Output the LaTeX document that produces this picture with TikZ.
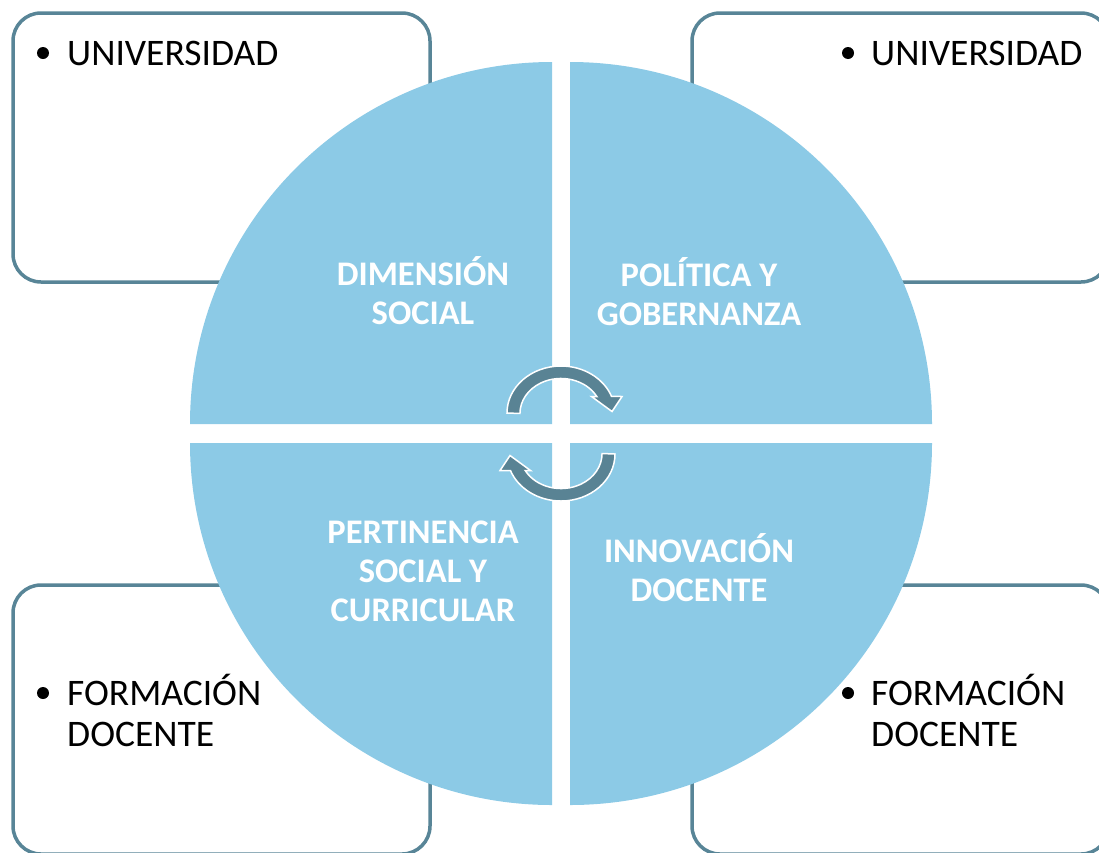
\documentclass[tikz,border=0pt]{standalone}
\usepackage{fontspec}
\setmainfont{Carlito}
\definecolor{quad}{RGB}{140,202,230}
\definecolor{frame}{RGB}{88,133,151}
\definecolor{arrowc}{RGB}{89,131,148}
\tikzset{
  boxline/.style={draw=frame, line width=3.5pt, rounded corners=28pt, fill=white},
  quadfill/.style={fill=quad, draw=none},
  qlabel/.style={inner sep=0pt, text=white, font=\fontsize{34.5}{39}\selectfont\bfseries},
  blabel/.style={inner sep=0pt, text=black, font=\fontsize{37.5}{41}\selectfont},
  bulletmark/.style={circle, fill=black, inner sep=0pt, minimum size=12pt},
  cyclearrow/.style={fill=arrowc, draw=white, line width=1.5pt, line join=miter}
}
\begin{document}
\begin{tikzpicture}[x=1pt,y=-1pt]
\useasboundingbox (0,0) rectangle (1099,852);
\clip (0,0) rectangle (1099,852);
% corner boxes
\path[boxline] (13,13) rectangle (430,282);
\path[boxline] (692,13) rectangle (1109,282);
\path[boxline] (13,585) rectangle (430,854);
\path[boxline] (692,585) rectangle (1109,854);
% quadrants
\path[quadfill] (552,424) -- ++(-362,0) arc[start angle=180, end angle=270, radius=362] -- cycle;
\path[quadfill] (570,424) -- ++(0,-362) arc[start angle=270, end angle=360, radius=362] -- cycle;
\path[quadfill] (570,443) -- ++(362,0) arc[start angle=0, end angle=90, radius=362] -- cycle;
\path[quadfill] (552,443) -- ++(0,362) arc[start angle=90, end angle=180, radius=362] -- cycle;
% cycle arrows
\coordinate (ctr) at (561,433.5);
\path[cyclearrow] (507,413) arc[start angle=180, end angle=339.3, x radius=54, y radius=47]
  -- (622,396.5) -- (612,411.5) -- (591.5,396.5) -- (596.8,396.5)
  arc[start angle=331, end angle=180, x radius=41, y radius=35] -- cycle;
\begin{scope}[rotate around={180:(ctr)}]
\path[cyclearrow] (507,413) arc[start angle=180, end angle=339.3, x radius=54, y radius=47]
  -- (622,396.5) -- (612,411.5) -- (591.5,396.5) -- (596.8,396.5)
  arc[start angle=331, end angle=180, x radius=41, y radius=35] -- cycle;
\end{scope}
% quadrant labels
\node[qlabel, anchor=base] (dim) at (423,285) {\begin{tabular}[t]{@{}c@{}}DIMENSIÓN\\SOCIAL\end{tabular}};
\node[qlabel, anchor=base] (pol) at (699,286) {\begin{tabular}[t]{@{}c@{}}POLÍTICA Y\\GOBERNANZA\end{tabular}};
\node[qlabel, anchor=base] (per) at (423,543) {\begin{tabular}[t]{@{}c@{}}PERTINENCIA\\SOCIAL Y\\CURRICULAR\end{tabular}};
\node[qlabel, anchor=base] (inn) at (699,562) {\begin{tabular}[t]{@{}c@{}}INNOVACIÓN\\DOCENTE\end{tabular}};
% box texts
\node[bulletmark] (b1) at (43,53) {};
\node[blabel, anchor=base west] (u1) at (67,65) {UNIVERSIDAD};
\node[bulletmark] (b2) at (848,53) {};
\node[blabel, anchor=base west] (u2) at (871,65) {UNIVERSIDAD};
\node[bulletmark] (b3) at (43,693) {};
\node[blabel, anchor=base west] (f1) at (67,705) {\begin{tabular}[t]{@{}l@{}}FORMACIÓN\\DOCENTE\end{tabular}};
\node[bulletmark] (b4) at (848,693) {};
\node[blabel, anchor=base west] (f2) at (871,705) {\begin{tabular}[t]{@{}l@{}}FORMACIÓN\\DOCENTE\end{tabular}};
\end{tikzpicture}
\end{document}
